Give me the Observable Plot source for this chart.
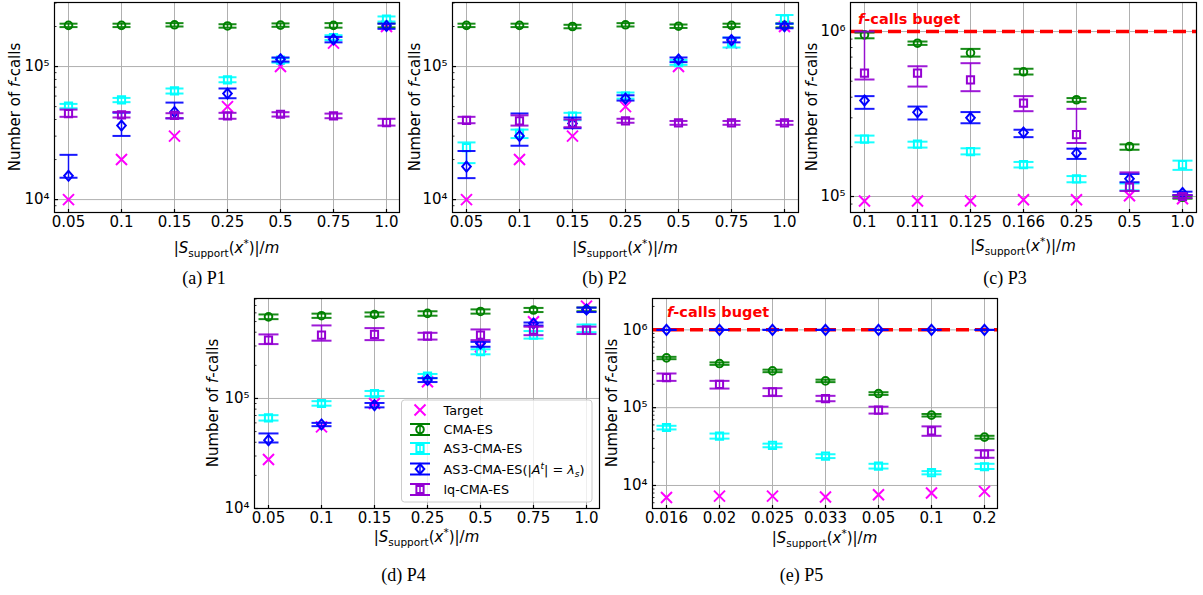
<!DOCTYPE html>
<html>
<head>
<meta charset="utf-8">
<script src="https://cdn.jsdelivr.net/npm/d3@7"></script>
<script src="https://cdn.jsdelivr.net/npm/@observablehq/plot@0.6"></script>
<style>
  body { margin: 0; background: #fff; }
  #fig { position: relative; width: 1203px; height: 595px; overflow: hidden; background: #fff; }
  #fig svg { position: absolute; }
</style>
</head>
<body>
<div id="fig"></div>
<script>
// ---- categories (|S_support(x*)|/m) ----
const xP1 = ["0.05", "0.1", "0.15", "0.25", "0.5", "0.75", "1.0"];
const xP2 = ["0.05", "0.1", "0.15", "0.25", "0.5", "0.75", "1.0"];
const xP3 = ["0.1", "0.111", "0.125", "0.166", "0.25", "0.5", "1.0"];
const xP4 = ["0.05", "0.1", "0.15", "0.25", "0.5", "0.75", "1.0"];
const xP5 = ["0.016", "0.02", "0.025", "0.033", "0.05", "0.1", "0.2"];

// ---- target number of f-calls ----
const targetP1 = [1e4, 2e4, 3e4, 5e4, 1e5, 1.5e5, 2e5];
const targetP2 = [1e4, 2e4, 3e4, 5e4, 1e5, 1.5e5, 2e5];
const targetP3 = [9.4e4, 9.4e4, 9.4e4, 9.55e4, 9.55e4, 1.01e5, 9.7e4];
const targetP4 = [2.79e4, 5.52e4, 9.0e4, 1.42e5, 2.95e5, 4.98e5, 6.9e5];
const targetP5 = [7.0e3, 7.3e3, 7.3e3, 7.1e3, 7.6e3, 8.0e3, 8.4e3];

// ---- measured f-calls: [centre, lower, upper] ----
const cmaP1 = [[2.04e5,1.98e5,2.10e5],[2.04e5,1.98e5,2.10e5],[2.06e5,2.0e5,2.12e5],[2.02e5,1.96e5,2.08e5],[2.05e5,1.99e5,2.11e5],[2.04e5,1.96e5,2.12e5],[2.04e5,1.97e5,2.11e5]];
const as3P1 = [[5.04e4,4.86e4,5.24e4],[5.61e4,5.4e4,5.81e4],[6.56e4,6.27e4,6.84e4],[7.94e4,7.62e4,8.31e4],[1.116e5,1.07e5,1.155e5],[1.65e5,1.58e5,1.72e5],[2.27e5,2.18e5,2.38e5]];
const as3sP1 = [[1.51e4,1.46e4,2.17e4],[3.6e4,3.01e4,4.5e4],[4.56e4,4.08e4,5.36e4],[6.27e4,5.78e4,6.84e4],[1.135e5,1.09e5,1.17e5],[1.6e5,1.52e5,1.67e5],[2.02e5,1.92e5,2.1e5]];
const lqP1 = [[4.43e4,4.19e4,4.75e4],[4.34e4,4.14e4,4.56e4],[4.3e4,4.09e4,4.46e4],[4.26e4,4.05e4,4.49e4],[4.38e4,4.21e4,4.54e4],[4.26e4,4.09e4,4.43e4],[3.79e4,3.6e4,4.05e4]];

const cmaP2 = [[2.04e5,1.98e5,2.10e5],[2.04e5,1.98e5,2.10e5],[2.0e5,1.94e5,2.06e5],[2.06e5,2.0e5,2.12e5],[2.01e5,1.95e5,2.07e5],[2.04e5,1.98e5,2.10e5],[2.04e5,1.97e5,2.11e5]];
const as3P2 = [[2.46e4,1.88e4,2.69e4],[3.15e4,2.9e4,3.36e4],[4.25e4,3.95e4,4.49e4],[6.0e4,5.74e4,6.38e4],[1.07e5,1.03e5,1.12e5],[1.52e5,1.39e5,1.65e5],[2.27e5,2.1e5,2.44e5]];
const as3sP2 = [[1.77e4,1.45e4,2.32e4],[3.01e4,2.54e4,4.44e4],[3.73e4,3.44e4,4.14e4],[5.74e4,5.55e4,6.08e4],[1.13e5,1.08e5,1.17e5],[1.58e5,1.52e5,1.65e5],[2.01e5,1.94e5,2.1e5]];
const lqP2 = [[3.94e4,3.75e4,4.19e4],[3.9e4,3.6e4,4.3e4],[3.73e4,3.5e4,4.0e4],[3.9e4,3.78e4,4.05e4],[3.77e4,3.65e4,3.9e4],[3.77e4,3.65e4,3.9e4],[3.77e4,3.65e4,3.9e4]];

const cmaP3 = [[9.55e5,9.1e5,9.86e5],[8.5e5,8.3e5,8.7e5],[7.43e5,7.05e5,7.85e5],[5.7e5,5.49e5,5.95e5],[3.86e5,3.75e5,3.95e5],[2.01e5,1.92e5,2.07e5],[9.9e4,9.7e4,1.01e5]];
const as3P3 = [[2.23e5,2.13e5,2.34e5],[2.08e5,1.98e5,2.15e5],[1.87e5,1.8e5,1.96e5],[1.56e5,1.5e5,1.62e5],[1.28e5,1.22e5,1.33e5],[1.15e5,1.09e5,1.2e5],[1.56e5,1.45e5,1.65e5]];
const as3sP3 = [[3.82e5,3.4e5,4.06e5],[3.24e5,2.93e5,3.51e5],[3.0e5,2.78e5,3.25e5],[2.44e5,2.29e5,2.54e5],[1.83e5,1.69e5,1.95e5],[1.28e5,1.22e5,1.37e5],[1.05e5,1.02e5,1.07e5]];
const lqP3 = [[5.59e5,5.12e5,1.0e6],[5.59e5,4.64e5,6.16e5],[5.09e5,4.35e5,6.43e5],[3.68e5,3.29e5,4.06e5],[2.37e5,2.11e5,3.4e5],[1.14e5,1.08e5,1.4e5],[1.0e5,9.8e4,1.02e5]];

const cmaP4 = [[5.52e5,5.26e5,5.8e5],[5.65e5,5.4e5,5.9e5],[5.8e5,5.55e5,6.05e5],[5.93e5,5.65e5,6.2e5],[6.18e5,5.9e5,6.45e5],[6.36e5,6.1e5,6.65e5],[6.44e5,6.2e5,6.7e5]];
const as3P4 = [[6.67e4,6.3e4,7.05e4],[9.0e4,8.6e4,9.45e4],[1.11e5,1.05e5,1.17e5],[1.6e5,1.53e5,1.67e5],[2.66e5,2.52e5,2.8e5],[3.76e5,3.5e5,4.1e5],[4.33e5,4.0e5,4.7e5]];
const as3sP4 = [[4.18e4,3.98e4,4.81e4],[5.81e4,5.6e4,6.0e4],[8.7e4,8.3e4,9.1e4],[1.47e5,1.41e5,1.53e5],[3.16e5,2.95e5,3.27e5],[4.8e5,4.6e5,4.9e5],[6.44e5,6.1e5,6.7e5]];
const lqP4 = [[3.39e5,3.12e5,3.82e5],[3.76e5,3.35e5,4.61e5],[3.82e5,3.39e5,4.36e5],[3.69e5,3.43e5,3.95e5],[3.76e5,3.39e5,4.24e5],[4.18e5,3.76e5,4.49e5],[4.18e5,3.85e5,4.49e5]];

const cmaP5 = [[4.37e5,4.2e5,4.5e5],[3.69e5,3.55e5,3.82e5],[2.97e5,2.86e5,3.08e5],[2.21e5,2.13e5,2.29e5],[1.52e5,1.46e5,1.58e5],[8.02e4,7.7e4,8.3e4],[4.18e4,4.0e4,4.35e4]];
const as3P5 = [[5.56e4,5.25e4,5.85e4],[4.3e4,4.0e4,4.65e4],[3.27e4,3.1e4,3.45e4],[2.38e4,2.25e4,2.52e4],[1.77e4,1.65e4,1.9e4],[1.46e4,1.39e4,1.53e4],[1.74e4,1.63e4,1.9e4]];
const as3sP5 = [[1e6,1e6,1e6],[1e6,1e6,1e6],[1e6,1e6,1e6],[1e6,1e6,1e6],[1e6,1e6,1e6],[1e6,1e6,1e6],[1e6,1e6,1e6]];
const lqP5 = [[2.44e5,2.21e5,2.75e5],[1.99e5,1.76e5,2.21e5],[1.6e5,1.41e5,1.78e5],[1.31e5,1.21e5,1.42e5],[9.29e4,8.4e4,1.03e5],[5.04e4,4.35e4,5.75e4],[2.53e4,2.27e4,2.84e4]];

const budget = 1e6;
const seriesNames = ["Target", "CMA-ES", "AS3-CMA-ES", "AS3-CMA-ES(|A^t| = λ_s)", "lq-CMA-ES"];
const captions = ["(a) P1", "(b) P2", "(c) P3", "(d) P4", "(e) P5"];

// ---- colours ----
const C = { target: "#ff00ff", cma: "#008000", as3: "#00ffff", as3s: "#0000ff", lq: "#9400d3", budget: "#ff0000" };

// ---- marker shapes (fixed pixel sizes) ----
const SYM = {
  circle: { draw(c) { c.moveTo(3.8, 0); c.arc(0, 0, 3.8, 0, 2 * Math.PI); } },
  square: { draw(c) { c.rect(-3.6, -3.6, 7.2, 7.2); } },
  diamond: { draw(c) { c.moveTo(0, -5); c.lineTo(4.3, 0); c.lineTo(0, 5); c.lineTo(-4.3, 0); c.closePath(); } },
  times: { draw(c) { c.moveTo(-5.5, -5.5); c.lineTo(5.5, 5.5); c.moveTo(5.5, -5.5); c.lineTo(-5.5, 5.5); } }
};
const capSym = w => ({ draw(c) { c.moveTo(-w / 2, 0); c.lineTo(w / 2, 0); } });
const tickH = len => ({ draw(c) { c.moveTo(0, 0); c.lineTo(len, 0); } });
const tickV = len => ({ draw(c) { c.moveTo(0, 0); c.lineTo(0, -len); } });

const SUP = { "-": "⁻", "0": "⁰", "1": "¹", "2": "²", "3": "³", "4": "⁴", "5": "⁵", "6": "⁶", "7": "⁷", "8": "⁸", "9": "⁹" };
const fmtPow = d => "10" + String(Math.round(Math.log10(d))).split("").map(ch => SUP[ch]).join("");

const panels = [
  { xs: xP1, target: targetP1, cma: cmaP1, as3: as3P1, as3s: as3sP1, lq: lqP1, frame: [54, 2, 399, 212], domain: [8e3, 3.03e5], capW: 18, ylabX: 20, xlabY: 253, capX: 204, capY: 284 },
  { xs: xP2, target: targetP2, cma: cmaP2, as3: as3P2, as3s: as3sP2, lq: lqP2, frame: [452, 2, 798, 212], domain: [8e3, 3.03e5], capW: 18, ylabX: 420, xlabY: 253, capX: 604.5, capY: 284 },
  { xs: xP3, target: targetP3, cma: cmaP3, as3: as3P3, as3s: as3sP3, lq: lqP3, frame: [850, 2, 1196, 212], domain: [8e4, 1.5e6], capW: 20, ylabX: 817, xlabY: 251, capX: 1005, capY: 284, budget: [858, 23.5] },
  { xs: xP4, target: targetP4, cma: cmaP4, as3: as3P4, as3s: as3sP4, lq: lqP4, frame: [254, 298, 599, 508], domain: [1e4, 8.1e5], capW: 20, ylabX: 218, xlabY: 542, capX: 403.5, capY: 581, legend: true },
  { xs: xP5, target: targetP5, cma: cmaP5, as3: as3P5, as3s: as3sP5, lq: lqP5, frame: [652, 298, 997, 508], domain: [5.06e3, 2.53e6], capW: 20, ylabX: 617, xlabY: 543, capX: 801.5, capY: 581, budget: [667, 317] }
];

const ML = 62, MR = 10, MT = 8, MB = 60;
const fig = document.getElementById("fig");

function decadeTicks([lo, hi]) {
  const majors = [], minors = [];
  for (let e = Math.floor(Math.log10(lo)); e <= Math.ceil(Math.log10(hi)); e++) {
    const p = Math.pow(10, e);
    if (p >= lo * 0.999 && p <= hi * 1.001) majors.push(p);
    for (let k = 2; k <= 9; k++) { const v = k * p; if (v > lo && v < hi) minors.push(v); }
  }
  return { majors, minors };
}

function errorMarks(rows, color, marker, capW) {
  const cap = capSym(capW);
  return [
    Plot.ruleX(rows, { x: "x", y1: "lo", y2: "hi", stroke: color, strokeWidth: 1.5, strokeOpacity: 0.9 }),
    Plot.dot(rows, { x: "x", y: "lo", symbol: cap, stroke: color, fill: "none", strokeWidth: 2, strokeOpacity: 0.9 }),
    Plot.dot(rows, { x: "x", y: "hi", symbol: cap, stroke: color, fill: "none", strokeWidth: 2, strokeOpacity: 0.9 }),
    Plot.dot(rows, { x: "x", y: "m", symbol: marker, stroke: color, fill: "none", strokeWidth: 2 })
  ];
}

const placed = [];
panels.forEach(p => {
  const [fx0, fy0, fx1, fy1] = p.frame;
  const rowsOf = arr => arr.map((v, i) => ({ x: p.xs[i], m: v[0], lo: v[1], hi: v[2] }));
  const targetRows = p.target.map((v, i) => ({ x: p.xs[i], m: v }));
  const { majors, minors } = decadeTicks(p.domain);
  const marks = [
    Plot.gridX({ stroke: "#b0b0b0", strokeOpacity: 1, strokeWidth: 1 }),
    Plot.gridY(majors, { stroke: "#b0b0b0", strokeOpacity: 1, strokeWidth: 1 }),
    Plot.axisX({ tickSize: 0, tickPadding: 4, fontSize: 15, label: null }),
    Plot.axisY(majors, { tickSize: 0, tickPadding: 5, fontSize: 15, tickFormat: fmtPow, label: null }),
    Plot.dot(majors, { y: d => d, frameAnchor: "left", symbol: tickH(3.5), stroke: "black", strokeWidth: 1.2 }),
    Plot.dot(minors, { y: d => d, frameAnchor: "left", symbol: tickH(2), stroke: "black", strokeWidth: 0.8 }),
    Plot.dot(p.xs, { x: d => d, frameAnchor: "bottom", symbol: tickV(3.5), stroke: "black", strokeWidth: 1.2 })
  ];
  if (p.budget) marks.push(Plot.ruleY([budget], { stroke: C.budget, strokeWidth: 3.5, strokeDasharray: "13,6" }));
  marks.push(Plot.dot(targetRows, { x: "x", y: "m", symbol: SYM.times, stroke: C.target, fill: "none", strokeWidth: 2 }));
  marks.push(...errorMarks(rowsOf(p.cma), C.cma, SYM.circle, p.capW));
  marks.push(...errorMarks(rowsOf(p.as3), C.as3, SYM.square, p.capW));
  marks.push(...errorMarks(rowsOf(p.as3s), C.as3s, SYM.diamond, p.capW));
  marks.push(...errorMarks(rowsOf(p.lq), C.lq, SYM.square, p.capW));
  marks.push(Plot.frame({ stroke: "black", strokeWidth: 1.2 }));

  const plot = Plot.plot({
    width: fx1 - fx0 + ML + MR,
    height: fy1 - fy0 + MT + MB,
    marginLeft: ML, marginRight: MR, marginTop: MT, marginBottom: MB,
    style: { background: "transparent", fontFamily: "'DejaVu Sans', sans-serif", fontSize: "15px", color: "black", overflow: "visible" },
    x: { type: "point", domain: p.xs, padding: 0.25 },
    y: { type: "log", domain: p.domain },
    marks
  });
  plot.style.position = "absolute";
  plot.style.left = (fx0 - ML) + "px";
  plot.style.top = (fy0 - MT) + "px";
  plot.style.maxWidth = "none";
  fig.appendChild(plot);
  placed.push({ p, plot, top: fy0 - MT, left: fx0 - ML });
});

// ---- text layer: axis titles, budget labels, legend, captions ----
const overlay = d3.select(fig).append("svg")
  .attr("width", 1203).attr("height", 595)
  .style("left", "0px").style("top", "0px").style("pointer-events", "none")
  .attr("font-family", "'DejaVu Sans', sans-serif");

function rich(sel, segs) {
  segs.forEach(s => {
    const ts = sel.append("tspan").text(s.t);
    if (s.i) ts.attr("font-style", "italic");
    if (s.fs) ts.attr("font-size", s.fs);
    if (s.dy) ts.attr("dy", s.dy);
  });
  return sel;
}

const xLabelSegs = [{ t: "|" }, { t: "S", i: 1 }, { t: "support", fs: 10.5, dy: 3.5 }, { t: "(", dy: -3.5 }, { t: "x", i: 1 }, { t: "*", fs: 10.5, dy: -6 }, { t: ")|/", dy: 6 }, { t: "m", i: 1 }];
const yLabelSegs = [{ t: "Number of " }, { t: "f", i: 1 }, { t: "-calls" }];

placed.forEach(({ p }, idx) => {
  const [fx0, fy0, fx1, fy1] = p.frame;
  rich(overlay.append("text").attr("x", (fx0 + fx1) / 2).attr("y", p.xlabY)
    .attr("text-anchor", "middle").attr("font-size", 15), xLabelSegs);
  const cy = (fy0 + fy1) / 2;
  rich(overlay.append("text").attr("transform", `translate(${p.ylabX},${cy}) rotate(-90)`)
    .attr("text-anchor", "middle").attr("font-size", 15), yLabelSegs);
  if (p.budget) {
    rich(overlay.append("text").attr("x", p.budget[0]).attr("y", p.budget[1])
      .attr("font-size", 14.5).attr("font-weight", "bold").attr("fill", C.budget),
      [{ t: "f", i: 1 }, { t: "-calls buget" }]);
  }
  overlay.append("text").attr("x", p.capX).attr("y", p.capY).attr("text-anchor", "middle")
    .attr("font-family", "'Liberation Serif', 'Times New Roman', serif").attr("font-size", 18)
    .text(captions[idx]);
});

// legend inside panel (d)
const lg = overlay.append("g");
lg.append("rect").attr("x", 401.5).attr("y", 400).attr("width", 190.5).attr("height", 102).attr("rx", 3)
  .attr("fill", "white").attr("fill-opacity", 0.8).attr("stroke", "#cccccc").attr("stroke-width", 1);
const legendRows = [
  { name: seriesNames[0], color: C.target, sym: SYM.times, bars: false, y: 410 },
  { name: seriesNames[1], color: C.cma, sym: SYM.circle, bars: true, y: 429.5 },
  { name: seriesNames[2], color: C.as3, sym: SYM.square, bars: true, y: 448.5 },
  { name: seriesNames[3], color: C.as3s, sym: SYM.diamond, bars: true, y: 469 },
  { name: seriesNames[4], color: C.lq, sym: SYM.square, bars: true, y: 489.5 }
];
const lx = 420;
legendRows.forEach(r => {
  const g = lg.append("g").attr("transform", `translate(${lx},${r.y})`);
  if (r.bars) {
    g.append("line").attr("x1", 0).attr("x2", 0).attr("y1", -5.5).attr("y2", 5.5).attr("stroke", r.color).attr("stroke-width", 1.5);
    [-5.5, 5.5].forEach(dy => g.append("path").attr("d", d3.symbol().type(capSym(20))()).attr("transform", `translate(0,${dy})`)
      .attr("stroke", r.color).attr("stroke-width", 2).attr("fill", "none"));
  }
  g.append("path").attr("d", d3.symbol().type(r.sym)()).attr("stroke", r.color).attr("stroke-width", 2).attr("fill", "none");
  const t = lg.append("text").attr("x", 443.5).attr("y", r.y + 4.6).attr("font-size", 12.8);
  if (r.name.includes("^")) {
    rich(t, [{ t: "AS3-CMA-ES(|" }, { t: "A", i: 1 }, { t: "t", i: 1, fs: 9, dy: -5 }, { t: "| = ", dy: 5 }, { t: "λ", i: 1 }, { t: "s", i: 1, fs: 9, dy: 3 }, { t: ")", dy: -3 }]);
  } else {
    t.text(r.name);
  }
});
</script>
</body>
</html>
